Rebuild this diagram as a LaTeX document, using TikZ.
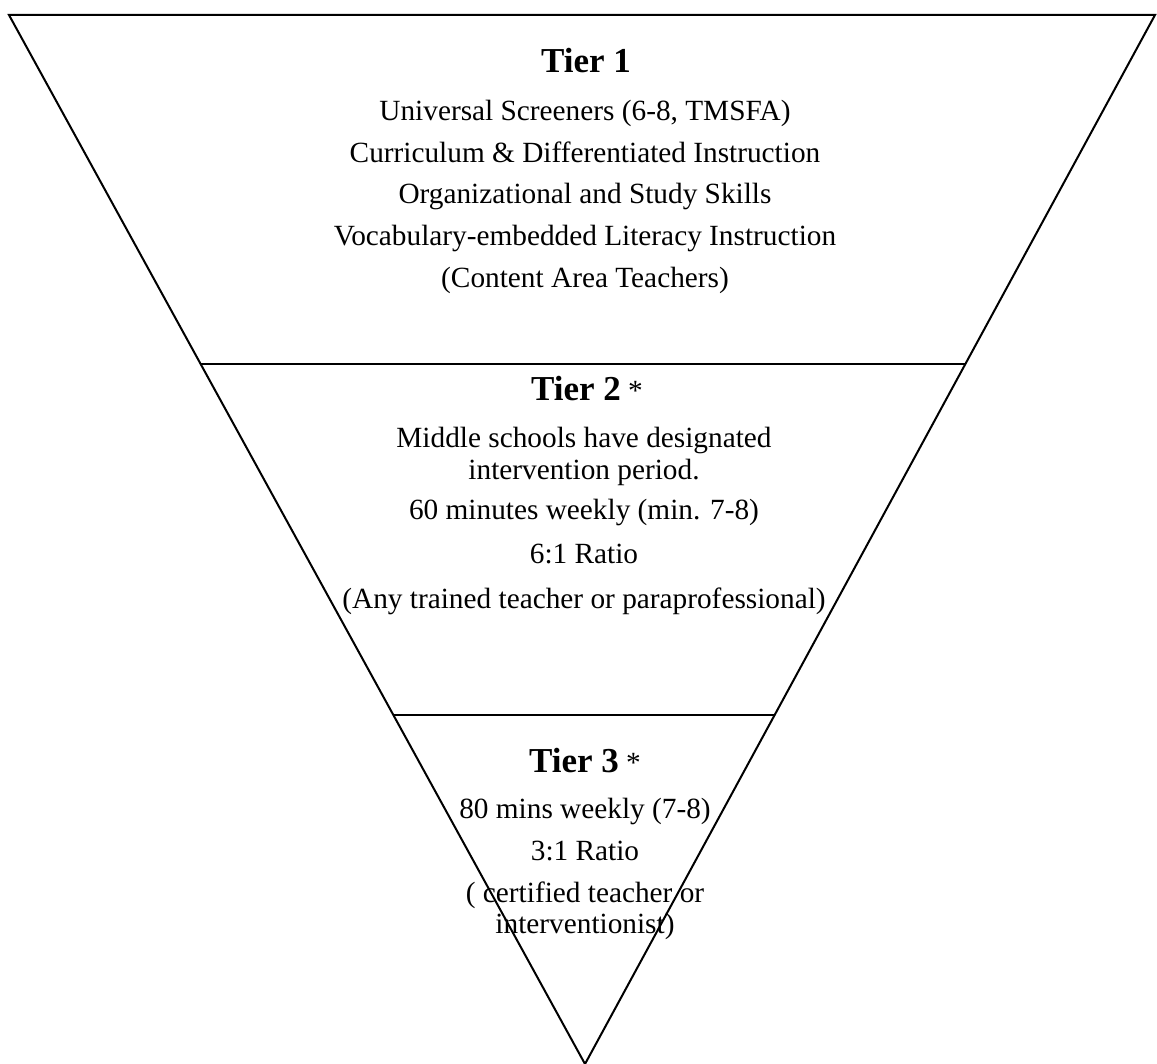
\documentclass[tikz,border=0pt]{standalone}
\usepackage{fontspec}
\setmainfont{Liberation Serif}
\usetikzlibrary{calc}
\begin{document}
\begin{tikzpicture}[x=1pt,y=-1pt,line width=2pt,
  body/.style={font=\fontsize{29.3}{33}\selectfont,inner sep=0pt,anchor=base},
  head/.style={font=\fontsize{35}{40}\selectfont\bfseries,inner sep=0pt,anchor=base}]
\useasboundingbox (0,0) rectangle (1157,1064);

% inverted triangle
\coordinate (tl) at (9,15);
\coordinate (tr) at (1155,15);
\coordinate (apex) at (585,1064);
\draw[line join=miter] (tl) -- (tr) -- (apex) -- cycle;

% tier dividers
\coordinate (d1l) at ($(tl)!0.3327!(apex)$);
\coordinate (d1r) at ($(tr)!0.3327!(apex)$);
\coordinate (d2l) at ($(tl)!0.6673!(apex)$);
\coordinate (d2r) at ($(tr)!0.6673!(apex)$);
\draw (d1l) -- (d1r);
\draw (d2l) -- (d2r);

\newcommand{\tierstar}{{\normalfont\fontsize{29.3}{33}\selectfont\ *}}

% Tier 1
\node[head] (t1) at (586,73) {Tier 1};
\node[body] (t1a) at (585,121) {Universal Screeners (6-8, TMSFA)};
\node[body] (t1b) at (585,163) {Curriculum \& Differentiated Instruction};
\node[body] (t1c) at (585,204) {Organizational and Study Skills};
\node[body] (t1d) at (585,246) {Vocabulary-embedded Literacy Instruction};
\node[body] (t1e) at (585,288) {(Content Area Teachers)};

% Tier 2
\node[head] (t2) at (587,401) {Tier 2\tierstar};
\node[body] (t2a) at (584,448) {Middle schools have designated};
\node[body] (t2b) at (584,479) {intervention period.};
\node[body] (t2c) at (584,519) {60 minutes weekly (min. 7-8)};
\node[body] (t2d) at (584,563) {6:1 Ratio};
\node[body] (t2e) at (584,608) {(Any trained teacher or paraprofessional)};

% Tier 3
\node[head] (t3) at (585,772) {Tier 3\tierstar};
\node[body] (t3a) at (585,818) {80 mins weekly (7-8)};
\node[body] (t3b) at (585,860) {3:1 Ratio};
\node[body] (t3c) at (585,902) {( certified teacher or};
\node[body] (t3d) at (585,933) {interventionist)};
\end{tikzpicture}
\end{document}
